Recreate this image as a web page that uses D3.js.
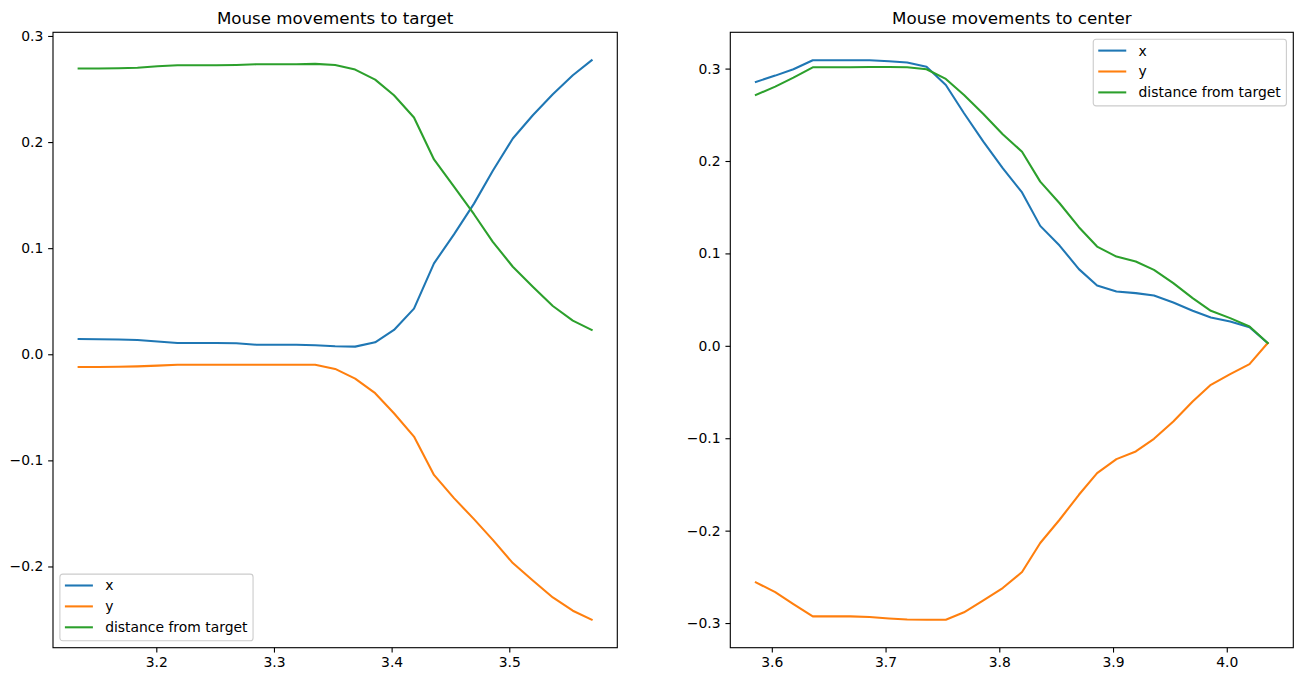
<!doctype html>
<html>
<head>
        <meta charset="utf-8">
        <script src="https://cdn.jsdelivr.net/npm/d3@7/dist/d3.min.js" type="text/javascript"></script>
        <style type="text/css">
                body { margin: 0; background: white; }
                svg { display: block; font-family: "DejaVu Sans", sans-serif; }
                .tick text { font-size: 13.9px; fill: black; }
                .domain { display: none; }
        </style>
</head>
<body>

        <svg width="1303" height="682"></svg>

        <script type="text/javascript">

        // ---- data ----
        var seriesNames = ["x", "y", "distance from target"];
        var colors = ["#1f77b4", "#ff7f0e", "#2ca02c"];

        // left panel: mouse movements to target
        var targetTime = [3.134, 3.151, 3.168, 3.184, 3.201, 3.218, 3.235, 3.251, 3.268, 3.285,
                          3.302, 3.319, 3.335, 3.352, 3.369, 3.386, 3.402, 3.419, 3.436, 3.453,
                          3.470, 3.486, 3.503, 3.520, 3.537, 3.554, 3.570];
        var targetX = [0.0144, 0.0142, 0.0140, 0.0135, 0.0120, 0.0106, 0.0106, 0.0106, 0.0104, 0.0090,
                       0.0090, 0.0090, 0.0085, 0.0076, 0.0072, 0.0113, 0.0229, 0.0430, 0.0857, 0.1130,
                       0.1420, 0.1730, 0.2034, 0.2253, 0.2451, 0.2630, 0.2771];
        var targetY = [-0.0120, -0.0120, -0.0118, -0.0114, -0.0107, -0.0098, -0.0098, -0.0098, -0.0098, -0.0098,
                       -0.0098, -0.0098, -0.0098, -0.0138, -0.0230, -0.0367, -0.0556, -0.0776, -0.1137, -0.1356,
                       -0.1554, -0.1749, -0.1968, -0.2132, -0.2292, -0.2417, -0.2502];
        var targetDist = [0.2693, 0.2693, 0.2696, 0.2700, 0.2715, 0.2724, 0.2724, 0.2724, 0.2727, 0.2733,
                          0.2733, 0.2733, 0.2737, 0.2727, 0.2683, 0.2589, 0.2441, 0.2232, 0.1836, 0.1580,
                          0.1320, 0.1060, 0.0825, 0.0637, 0.0455, 0.0317, 0.0229];

        // right panel: mouse movements to center
        var centerTime = [3.586, 3.603, 3.619, 3.636, 3.653, 3.669, 3.686, 3.703, 3.719, 3.736,
                          3.753, 3.769, 3.786, 3.803, 3.820, 3.836, 3.853, 3.870, 3.886, 3.903,
                          3.920, 3.936, 3.953, 3.970, 3.986, 4.003, 4.020, 4.036];
        var centerX = [0.2856, 0.2924, 0.2993, 0.3090, 0.3090, 0.3090, 0.3090, 0.3079, 0.3065, 0.3021,
                       0.2823, 0.2517, 0.2210, 0.1922, 0.1660, 0.1298, 0.1085, 0.0830, 0.0652, 0.0588,
                       0.0570, 0.0544, 0.0468, 0.0379, 0.0306, 0.0263, 0.0202, 0.0030];
        var centerY = [-0.2560, -0.2665, -0.2794, -0.2928, -0.2928, -0.2928, -0.2935, -0.2950, -0.2961, -0.2964,
                       -0.2964, -0.2884, -0.2755, -0.2621, -0.2448, -0.2134, -0.1882, -0.1612, -0.1377, -0.1226,
                       -0.1143, -0.1006, -0.0819, -0.0602, -0.0422, -0.0306, -0.0198, 0.0030];
        var centerDist = [0.2715, 0.2805, 0.2902, 0.3014, 0.3014, 0.3014, 0.3018, 0.3018, 0.3014, 0.2993,
                          0.2888, 0.2715, 0.2509, 0.2290, 0.2100, 0.1777, 0.1543, 0.1284, 0.1074, 0.0966,
                          0.0912, 0.0822, 0.0678, 0.0516, 0.0379, 0.0300, 0.0209, 0.0030];

        var targetTicksX = [3.2, 3.3, 3.4, 3.5];
        var targetTicksY = [-0.2, -0.1, 0.0, 0.1, 0.2, 0.3];
        var centerTicksX = [3.6, 3.7, 3.8, 3.9, 4.0];
        var centerTicksY = [-0.3, -0.2, -0.1, 0.0, 0.1, 0.2, 0.3];

        var svg = d3.select("svg");
        var fmt = function(d) { return d3.format(".1f")(d).replace("-", "\u2212"); };

        // matplotlib style 5% padding around the data
        function padded(ext) {
                var m = (ext[1] - ext[0]) * 0.05;
                return [ext[0] - m, ext[1] + m];
        }

        function drawPanel(box, title, time, series, ticksX, ticksY, legendPos) {
                var allY = d3.merge(series);
                var xScale = d3.scaleLinear().domain(padded(d3.extent(time))).range([box.left, box.right]);
                var yScale = d3.scaleLinear().domain(padded(d3.extent(allY))).range([box.bottom, box.top]);

                var g = svg.append("g");

                var xAxis = d3.axisBottom(xScale).tickValues(ticksX).tickFormat(fmt)
                              .tickSizeInner(4.86).tickSizeOuter(0).tickPadding(4.86);
                var yAxis = d3.axisLeft(yScale).tickValues(ticksY).tickFormat(fmt)
                              .tickSizeInner(4.86).tickSizeOuter(0).tickPadding(4.86);

                g.append("g").attr("transform", "translate(0," + box.bottom + ")").call(xAxis);
                g.append("g").attr("transform", "translate(" + box.left + ",0)").call(yAxis);
                g.selectAll(".tick line").attr("stroke", "black").attr("stroke-width", 1.11);
                g.selectAll(".tick text").attr("font-family", "DejaVu Sans");

                // lines
                var line = d3.line()
                             .x(function(d, i) { return xScale(time[i]); })
                             .y(function(d) { return yScale(d); });
                series.forEach(function(s, n) {
                        g.append("path")
                         .attr("d", line(s))
                         .attr("fill", "none")
                         .attr("stroke", colors[n])
                         .attr("stroke-width", 2.08)
                         .attr("stroke-linejoin", "round")
                         .attr("stroke-linecap", "square");
                });

                // frame
                g.append("rect")
                 .attr("x", box.left).attr("y", box.top)
                 .attr("width", box.right - box.left).attr("height", box.bottom - box.top)
                 .attr("fill", "none").attr("stroke", "black").attr("stroke-width", 1.11);

                g.append("text")
                 .attr("x", (box.left + box.right) / 2)
                 .attr("y", box.top - 8.3)
                 .attr("text-anchor", "middle")
                 .attr("font-size", "16.7px")
                 .text(title);

                // legend
                var lg = g.append("g");
                var bg = lg.append("rect");
                var maxW = 0;
                seriesNames.forEach(function(name, n) {
                        var cy = 11.4 + n * 20.9;
                        lg.append("line")
                          .attr("x1", 5).attr("x2", 33)
                          .attr("y1", cy).attr("y2", cy)
                          .attr("stroke", colors[n]).attr("stroke-width", 2.08);
                        var t = lg.append("text")
                                  .attr("x", 45.3).attr("y", cy)
                                  .attr("dy", "0.36em")
                                  .attr("font-size", "13.9px")
                                  .text(name);
                        maxW = Math.max(maxW, t.node().getComputedTextLength());
                });
                var lw = 45.3 + maxW + 5.6, lh = 66.7;
                bg.attr("width", lw).attr("height", lh).attr("rx", 2.8)
                  .attr("fill", "white").attr("fill-opacity", 0.8)
                  .attr("stroke", "#cccccc").attr("stroke-width", 1.11);
                var lx = legendPos == "upper right" ? box.right - 6.9 - lw : box.left + 6.9;
                var ly = legendPos == "upper right" ? box.top + 6.9 : box.bottom - 6.9 - lh;
                lg.attr("transform", "translate(" + lx + "," + ly + ")");
        }

        drawPanel({ left: 53, right: 617.3, top: 32.3, bottom: 647.7 },
                  "Mouse movements to target", targetTime,
                  [targetX, targetY, targetDist], targetTicksX, targetTicksY, "lower left");

        drawPanel({ left: 730.3, right: 1293.3, top: 32.3, bottom: 647.7 },
                  "Mouse movements to center", centerTime,
                  [centerX, centerY, centerDist], centerTicksX, centerTicksY, "upper right");

        </script>
</body>
</html>
